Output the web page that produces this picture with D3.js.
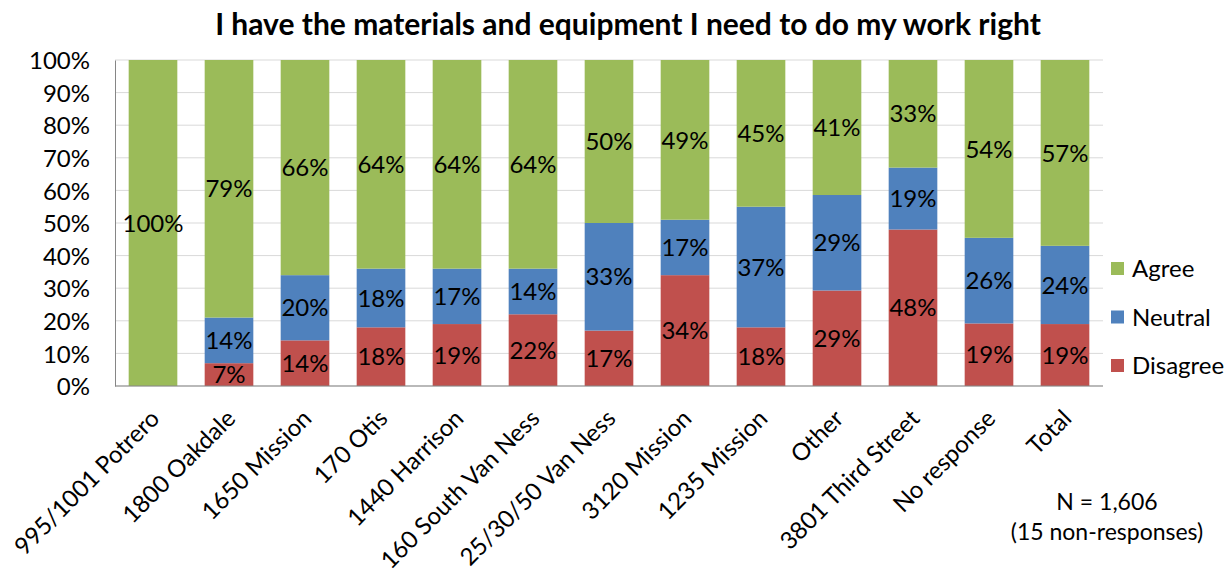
<!DOCTYPE html>
<html>
<head>
<meta charset="utf-8">
<script src="https://cdn.jsdelivr.net/npm/d3@7"></script>
<style>
  body { margin: 0; background: #fff; }
  text { font-family: Lato, "Open Sans", sans-serif; fill: #000; }
</style>
</head>
<body>
<svg id="chart" width="1231" height="575"></svg>
<script>
// data
var sites = ["995/1001 Potrero", "1800 Oakdale", "1650 Mission", "170 Otis", "1440 Harrison",
  "160 South Van Ness", "25/30/50 Van Ness", "3120 Mission", "1235 Mission", "Other",
  "3801 Third Street", "No response", "Total"];
var disagree = [0, 7, 14, 18, 19, 22, 17, 34, 18, 29, 48, 19, 19];
var neutral  = [0, 14, 20, 18, 17, 14, 33, 17, 37, 29, 19, 26, 24];
var agree    = [100, 79, 66, 64, 64, 64, 50, 49, 45, 41, 33, 54, 57];
var yTicks = [0, 10, 20, 30, 40, 50, 60, 70, 80, 90, 100];

var seriesKeys = ["Disagree", "Neutral", "Agree"];
var colors = { Disagree: "#C0504D", Neutral: "#4F81BD", Agree: "#9BBB59" };

var rows = sites.map(function (s, i) {
  return { site: s, Disagree: disagree[i], Neutral: neutral[i], Agree: agree[i] };
});

var svg = d3.select("#chart");
var margin = { left: 115, top: 60, right: 128, bottom: 189 };
var width = 1231 - margin.left - margin.right,
    height = 575 - margin.top - margin.bottom;

var g = svg.append("g").attr("transform", "translate(" + margin.left + "," + margin.top + ")");

var x = d3.scaleBand().domain(sites).range([0, width]).paddingInner(0.36).paddingOuter(0.18);
var y = d3.scaleLinear().domain([0, 1]).range([height, 0]);

// title
svg.append("text")
  .attr("x", 628).attr("y", 35)
  .attr("text-anchor", "middle")
  .style("font-size", "30px").style("font-weight", "bold")
  .text("I have the materials and equipment I need to do my work right");

// gridlines
g.selectAll(".grid")
  .data(yTicks)
  .enter().append("line")
  .attr("x1", 0).attr("x2", width)
  .attr("y1", function (d) { return y(d / 100); })
  .attr("y2", function (d) { return y(d / 100); })
  .style("stroke", "#D9D9D9").style("stroke-width", 1);

var stack = d3.stack().keys(seriesKeys).offset(d3.stackOffsetExpand);
var layers = stack(rows);

var layer = g.selectAll(".layer")
  .data(layers)
  .enter().append("g")
  .style("fill", function (d) { return colors[d.key]; });

layer.selectAll("rect")
  .data(function (d) { return d; })
  .enter().append("rect")
  .attr("x", function (d) { return x(d.data.site); })
  .attr("width", x.bandwidth())
  .attr("y", function (d) { return y(d[1]); })
  .attr("height", function (d) { return y(d[0]) - y(d[1]); });

// value labels
layers.forEach(function (l) {
  g.selectAll(".lbl-" + l.key)
    .data(l.filter(function (d) { return d.data[l.key] > 0; }))
    .enter().append("text")
    .attr("x", function (d) { return x(d.data.site) + x.bandwidth() / 2; })
    .attr("y", function (d) { return (y(d[0]) + y(d[1])) / 2; })
    .attr("dy", "0.36em")
    .attr("text-anchor", "middle")
    .style("font-size", "24px")
    .text(function (d) { return d.data[l.key] + "%"; });
});

// axes
var yAxis = d3.axisLeft(y).tickValues(yTicks.map(function (d) { return d / 100; }))
  .tickFormat(function (d) { return Math.round(d * 100) + "%"; })
  .tickSize(0).tickPadding(25);
var ya = g.append("g").call(yAxis);
ya.select(".domain").style("stroke", "#868686");
ya.selectAll("text").style("font-size", "24px").style("font-family", "Lato, sans-serif").attr("dy", "0.36em");

g.append("line")
  .attr("x1", 0).attr("x2", width).attr("y1", height).attr("y2", height)
  .style("stroke", "#868686");

g.selectAll(".xlbl")
  .data(sites)
  .enter().append("text")
  .attr("text-anchor", "end")
  .attr("transform", function (d) {
    return "translate(" + (x(d) + x.bandwidth() / 2 + 8) + "," + (height + 34) + ") rotate(-45)";
  })
  .style("font-size", "24px")
  .text(function (d) { return d; });

// legend
var legend = svg.append("g").attr("transform", "translate(1111,262)");
["Agree", "Neutral", "Disagree"].forEach(function (k, i) {
  var row = legend.append("g").attr("transform", "translate(0," + (i * 48.5) + ")");
  row.append("rect").attr("width", 13).attr("height", 13).style("fill", colors[k]);
  row.append("text").attr("x", 21).attr("y", 6.5).attr("dy", "0.36em")
    .style("font-size", "24px").text(k);
});

// note
svg.append("text").attr("x", 1107).attr("y", 510).attr("text-anchor", "middle")
  .style("font-size", "23px").text("N = 1,606");
svg.append("text").attr("x", 1107).attr("y", 540).attr("text-anchor", "middle")
  .style("font-size", "23px").text("(15 non-responses)");
</script>
</body>
</html>
